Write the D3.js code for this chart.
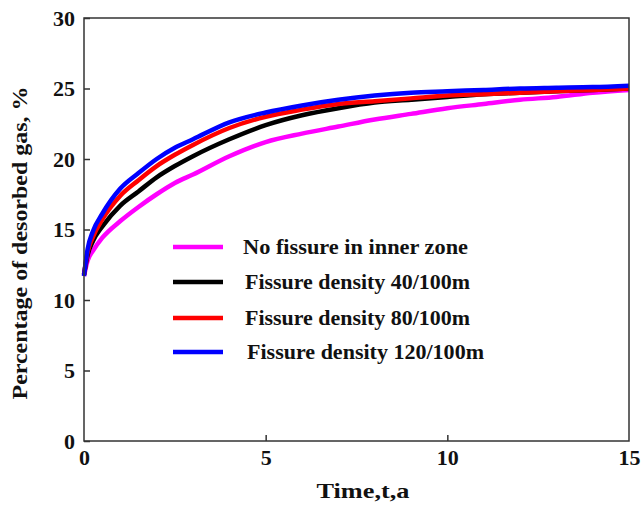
<!DOCTYPE html>
<html>
<head>
<meta charset="utf-8">
<script src="https://cdn.jsdelivr.net/npm/d3@7"></script>
<style>
  html, body { margin: 0; padding: 0; background: #fff; }
  svg text { font-family: "Times New Roman", "Liberation Serif", "DejaVu Serif", serif; font-weight: bold; fill: #111; }
</style>
</head>
<body>
<svg id="chart" width="641" height="505"></svg>
<script>
// Time axis (years) at which each series is sampled
const times = [0, 0.1, 0.25, 0.5, 1, 1.5, 2, 2.5, 3, 4, 5, 6, 7, 8, 9, 10, 11, 12, 13, 14, 15];

// Percentage of desorbed gas for each case
const noFissure = [11.7, 12.8, 13.5, 14.4, 15.6, 16.6, 17.5, 18.3, 18.9, 20.2, 21.2, 21.8, 22.3, 22.8, 23.2, 23.6, 23.9, 24.2, 24.4, 24.7, 24.9];
const density40 = [11.8, 13.2, 14.2, 15.2, 16.7, 17.7, 18.7, 19.5, 20.2, 21.4, 22.4, 23.1, 23.6, 24.0, 24.2, 24.4, 24.6, 24.7, 24.8, 24.9, 25.0];
const density80 = [11.8, 13.4, 14.5, 15.7, 17.4, 18.5, 19.5, 20.3, 21.0, 22.2, 23.0, 23.5, 23.9, 24.1, 24.3, 24.5, 24.6, 24.7, 24.8, 24.9, 25.0];
const density120 = [11.7, 13.6, 14.9, 16.1, 17.9, 19.0, 20.0, 20.8, 21.4, 22.6, 23.3, 23.8, 24.2, 24.5, 24.7, 24.8, 24.9, 25.0, 25.05, 25.1, 25.2];

const seriesNames = ["No fissure in inner zone", "Fissure density 40/100m", "Fissure density 80/100m", "Fissure density 120/100m"];
const seriesColors = ["#ff00ff", "#000000", "#ff0000", "#0000ff"];
const seriesValues = [noFissure, density40, density80, density120];

const xTicks = [0, 5, 10, 15];
const yTicks = [0, 5, 10, 15, 20, 25, 30];

const svg = d3.select("#chart");
const plotLeft = 84, plotRight = 629, plotTop = 18, plotBottom = 441;

const x = d3.scaleLinear().domain([0, 15]).range([plotLeft, plotRight]);
const y = d3.scaleLinear().domain([0, 30]).range([plotBottom, plotTop]);

// Curves
const line = d3.line()
  .x(d => x(d[0]))
  .y(d => y(d[1]))
  .curve(d3.curveMonotoneX);

seriesValues.forEach((vals, i) => {
  svg.append("path")
    .datum(times.map((t, j) => [t, vals[j]]))
    .attr("fill", "none")
    .attr("stroke", seriesColors[i])
    .attr("stroke-width", 4.5)
    .attr("d", line);
});

// Frame
svg.append("rect")
  .attr("x", plotLeft).attr("y", plotTop)
  .attr("width", plotRight - plotLeft).attr("height", plotBottom - plotTop)
  .attr("fill", "none").attr("stroke", "#333").attr("stroke-width", 1.5);

// Y axis: inward ticks, labels on the left
const yAxis = d3.axisLeft(y).tickValues(yTicks).tickSize(-6).tickPadding(9).tickFormat(d3.format("d"));
const gy = svg.append("g").attr("transform", `translate(${plotLeft},0)`).call(yAxis);
gy.select(".domain").remove();
gy.selectAll(".tick line").attr("stroke", "#333").attr("stroke-width", 1.5);
gy.selectAll(".tick text").attr("font-size", 22).attr("font-family", null);

// X axis: inward ticks, labels below
const xAxis = d3.axisBottom(x).tickValues(xTicks).tickSize(-6).tickPadding(8).tickFormat(d3.format("d"));
const gx = svg.append("g").attr("transform", `translate(0,${plotBottom})`).call(xAxis);
gx.select(".domain").remove();
gx.selectAll(".tick line").attr("stroke", "#333").attr("stroke-width", 1.5)
  .attr("display", d => (d === 0 || d === 15) ? "none" : null);
gx.selectAll(".tick text").attr("font-size", 22).attr("font-family", null);

// Axis titles
svg.append("text")
  .attr("x", 363).attr("y", 498)
  .attr("text-anchor", "middle")
  .attr("font-size", 21)
  .attr("textLength", 93).attr("lengthAdjust", "spacingAndGlyphs")
  .text("Time,t,a");

svg.append("text")
  .attr("transform", "translate(27,243) rotate(-90)")
  .attr("text-anchor", "middle")
  .attr("font-size", 20)
  .attr("textLength", 313).attr("lengthAdjust", "spacingAndGlyphs")
  .text("Percentage of desorbed gas, %");

// Legend
const legendY = [247, 282, 318, 352];
const legendTextX = [243, 245, 245, 247];
const legendTextW = [225, 225, 225, 237];
seriesNames.forEach((name, i) => {
  svg.append("line")
    .attr("x1", 173).attr("x2", 223)
    .attr("y1", legendY[i]).attr("y2", legendY[i])
    .attr("stroke", seriesColors[i]).attr("stroke-width", 4.5);
  svg.append("text")
    .attr("x", legendTextX[i]).attr("y", legendY[i] + 7)
    .attr("font-size", 21)
    .attr("textLength", legendTextW[i]).attr("lengthAdjust", "spacingAndGlyphs")
    .text(name);
});
</script>
</body>
</html>
